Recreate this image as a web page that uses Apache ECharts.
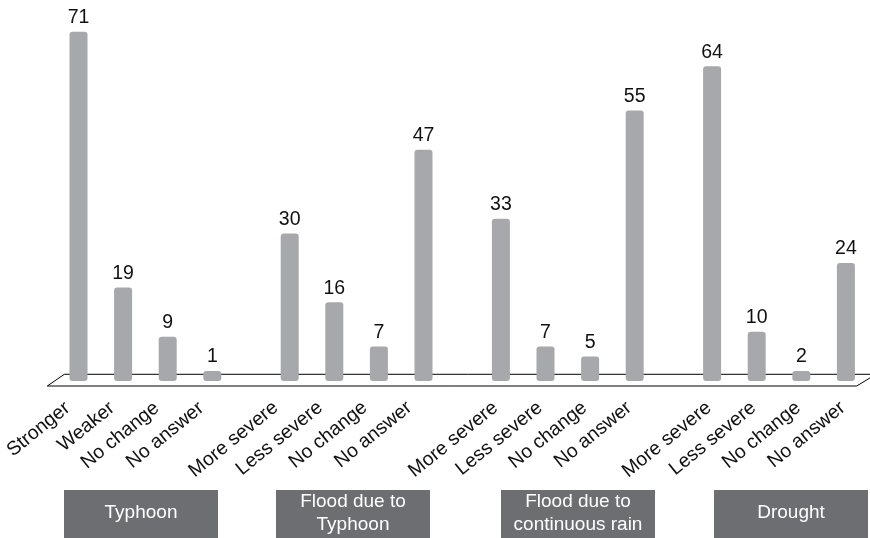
<!DOCTYPE html>
<html>
<head>
<meta charset="utf-8">
<script src="https://cdn.jsdelivr.net/npm/echarts@6/dist/echarts.min.js"></script>
<style>html,body{margin:0;padding:0;background:#fff;}#c{width:870px;height:538px;}</style>
</head>
<body>
<div id="c"></div>
<script>
// ---- data ----
const groupNames = ['Typhoon', 'Flood due to\nTyphoon', 'Flood due to\ncontinuous rain', 'Drought'];
const typhoonCats = ['Stronger', 'Weaker', 'No change', 'No answer'];
const typhoonValues = [71, 19, 9, 1];
const floodTyphoonCats = ['More severe', 'Less severe', 'No change', 'No answer'];
const floodTyphoonValues = [30, 16, 7, 47];
const floodRainCats = ['More severe', 'Less severe', 'No change', 'No answer'];
const floodRainValues = [33, 7, 5, 55];
const droughtCats = ['More severe', 'Less severe', 'No change', 'No answer'];
const droughtValues = [64, 10, 2, 24];

const groupCats = [typhoonCats, floodTyphoonCats, floodRainCats, droughtCats];
const groupValues = [typhoonValues, floodTyphoonValues, floodRainValues, droughtValues];

// ---- layout ----
const FONT = '"Liberation Sans", Arial, sans-serif';
const slot = 44.6;
const groupPeriod = 211.2;
const firstLeft = 56.2;
const gridTop = 31.7;
const gridBottomY = 381;
const yMax = 71;
const boxLefts = [64, 276, 501, 714];
const boxW = 154, boxTop = 490, boxH = 48;
const labelPad = [14, 18, 7, 4];
const labelMargin = [16, 13, 20, 22];

const grids = [], xAxes = [], yAxes = [], series = [];
groupCats.forEach((cats, i) => {
  grids.push({ left: firstLeft + groupPeriod * i, width: slot * 4, top: gridTop, height: gridBottomY - gridTop, containLabel: false });
  xAxes.push({
    type: 'category', gridIndex: i, data: cats,
    axisLine: { show: false }, axisTick: { show: false },
    axisLabel: { interval: 0, rotate: 39, fontSize: 19.5, color: '#111', fontFamily: FONT, margin: labelMargin[i], padding: [0, labelPad[i], 0, 0] }
  });
  yAxes.push({ type: 'value', gridIndex: i, min: 0, max: yMax, show: false, splitLine: { show: false } });
  series.push({
    type: 'bar', xAxisIndex: i, yAxisIndex: i, data: groupValues[i],
    barWidth: 18, barMinHeight: 10, z: 3,
    itemStyle: { color: '#a7a8ab', borderRadius: 3 },
    label: { show: true, position: 'top', distance: 4, fontSize: 19.5, color: '#111', fontFamily: FONT }
  });
});

const graphics = [{
  type: 'polygon', z: 0,
  shape: { points: [[47.3, 386], [64.3, 374.3], [876, 374.3], [856.7, 386]] },
  style: { fill: 'none', stroke: '#000', lineWidth: 1 }
}];
groupNames.forEach((name, i) => {
  graphics.push({
    type: 'rect', z: 0,
    shape: { x: boxLefts[i], y: boxTop, width: boxW, height: boxH },
    style: { fill: '#6d6e71' }
  });
  graphics.push({
    type: 'text', z: 1,
    x: boxLefts[i] + boxW / 2, y: boxTop + 23,
    style: { text: name, fill: '#fff', font: '19px ' + FONT, textAlign: 'center', textVerticalAlign: 'middle', lineHeight: 23 }
  });
});

const chart = echarts.init(document.getElementById('c'));
chart.setOption({
  animation: false,
  backgroundColor: '#fff',
  grid: grids, xAxis: xAxes, yAxis: yAxes, series: series,
  graphic: graphics
});
</script>
</body>
</html>
